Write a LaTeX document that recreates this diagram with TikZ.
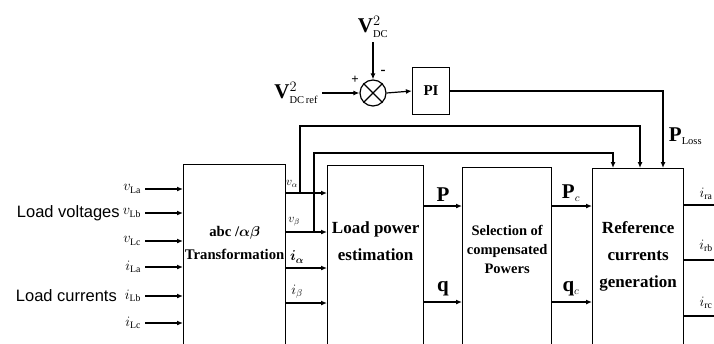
\documentclass[tikz,border=0pt]{standalone}
\usepackage{fontspec}
\setmainfont{Liberation Serif}
\newfontfamily\sansfont{Liberation Sans}
\usetikzlibrary{arrows.meta}

\begin{document}
\begin{tikzpicture}[x=1pt, y=-1pt, >={Latex[length=6pt,width=5pt]}, line width=1.2pt,
	blk/.style={draw, line width=1.3pt, anchor=north west, inner sep=0pt},
	blktxt/.style={font=\bfseries\fontsize{17}{27}\selectfont, align=center},
	sig/.style={font=\fontsize{14}{14}\selectfont},
	big/.style={font=\bfseries\fontsize{21}{21}\selectfont},
	side/.style={font=\sansfont\fontsize{16.5}{18}\selectfont, anchor=west}]
	\useasboundingbox (0,0) rectangle (714,343);
	\clip (0,0) rectangle (714,343);

	% blocks
	\node[blk, minimum width=102, minimum height=220] (tr) at (183,164) {};
	\node[blk, minimum width=96, minimum height=220] (lpe) at (327,165) {};
	\node[blk, minimum width=89, minimum height=220] (sel) at (462,167) {};
	\node[blk, minimum width=91, minimum height=220] (ref) at (592,168) {};
	\node[blktxt, font=\bfseries\boldmath\fontsize{14.7}{23}\selectfont] (trtxt) at ([yshift=-79pt]tr.north) {abc /$\alpha\beta$\\Transformation};
	\node[blktxt] (lpetxt) at ([yshift=-76pt]lpe.north) {Load power\\estimation};
	\node[blktxt, font=\bfseries\fontsize{14.5}{19}\selectfont] (seltxt) at ([yshift=-82pt]sel.north) {Selection of\\compensated\\Powers};
	\node[blktxt] (reftxt) at ([yshift=-88pt]ref.north) {Reference\\currents\\generation};

	% DC loop
	\node[draw, circle, minimum size=26, inner sep=0pt] (sum) at (373,93) {};
	\draw (sum.north west) -- (sum.south east) (sum.north east) -- (sum.south west);
	\node[draw, minimum width=37, minimum height=47, font=\bfseries\fontsize{15}{15}\selectfont] (pi) at (431,91) {PI};
	\coordinate (vdc) at (373,42);
	\coordinate (vref) at (322,93);
	\node[big, anchor=south] (vdclbl) at (vdc) {V$^{2}_{\scriptscriptstyle\mathrm{DC}}$};
	\node[big, anchor=east] (vreflbl) at (vref) {V$^{2}_{\scriptscriptstyle\mathrm{DC\,ref}}$};
	\draw[->] (vdc) -- (sum.north);
	\draw[->] (vref) -- (sum.west);
	\draw[->] (sum.east) -- (pi.west);
	\node[font=\bfseries\fontsize{13}{13}\selectfont] (plus) at (355,80) {+};
	\node[font=\bfseries\fontsize{15}{15}\selectfont] (minus) at (383,72) {-};
	\draw[->] (pi.east) -| ([xshift=71pt]ref.north west);
	\node[big, anchor=west] (ploss) at (665,136) {P$_{\scriptscriptstyle\mathrm{Loss}}$};

	% load measurements
	\node[side] (lv) at (13,213) {Load voltages};
	\node[side] (lc) at (12,296) {Load currents};
	\coordinate (in1) at (145,189);
	\coordinate (in2) at (145,213);
	\coordinate (in3) at (145,241);
	\coordinate (in4) at (145,267);
	\coordinate (in5) at (145,296);
	\coordinate (in6) at (145,323);
	\draw[->] (in1) -- (in1 -| tr.west) node[sig, at start, anchor=east] {$v_{\mathrm{La}}$};
	\draw[->] (in2) -- (in2 -| tr.west) node[sig, at start, anchor=east] {$v_{\mathrm{Lb}}$};
	\draw[->] (in3) -- (in3 -| tr.west) node[sig, at start, anchor=east] {$v_{\mathrm{Lc}}$};
	\draw[->] (in4) -- (in4 -| tr.west) node[sig, at start, anchor=east] {$i_{\mathrm{La}}$};
	\draw[->] (in5) -- (in5 -| tr.west) node[sig, at start, anchor=east] {$i_{\mathrm{Lb}}$};
	\draw[->] (in6) -- (in6 -| tr.west) node[sig, at start, anchor=east] {$i_{\mathrm{Lc}}$};

	% alpha-beta quantities
	\coordinate (oa) at (285,193);
	\coordinate (ob) at (285,232);
	\coordinate (oc) at (285,268);
	\coordinate (od) at (285,303);
	\draw[->] (oa) -- (oa -| lpe.west);
	\draw[->] (ob) -- (ob -| lpe.west);
	\draw[->] (oc) -- (oc -| lpe.west);
	\draw[->] (od) -- (od -| lpe.west);
	\node[sig, font=\fontsize{12}{12}\selectfont] (va) at (292,184) {$v_\alpha$};
	\node[sig, font=\fontsize{12}{12}\selectfont] (vb) at (294,222) {$v_\beta$};
	\node[sig, font=\boldmath\fontsize{14}{14}\selectfont] (ia) at (297,257) {$i_\alpha$};
	\node[sig] (ib) at (297,292) {$i_\beta$};
	\coordinate (ta) at (300,193);
	\coordinate (tb) at (314,232);
	\draw[->] (ta) -- ++(0,-67) -| ([xshift=48pt]ref.north west);
	\draw[->] (tb) -- ++(0,-79) -| ([xshift=21pt]ref.north west);

	% powers
	\coordinate (pp) at (423,206);
	\coordinate (qq) at (423,302);
	\draw[->] (pp) -- (pp -| sel.west);
	\draw[->] (qq) -- (qq -| sel.west);
	\node[big] (plbl) at (443,195) {P};
	\node[big] (qlbl) at (443,289) {q};
	\coordinate (pc) at (551,206);
	\coordinate (qc) at (551,302);
	\draw[->] (pc) -- (pc -| ref.west);
	\draw[->] (qc) -- (qc -| ref.west);
	\node[big] (pclbl) at (571,193) {P$_{\scriptscriptstyle c}$};
	\node[big] (qclbl) at (571,289) {q$_{\scriptscriptstyle c}$};

	% reference currents
	\coordinate (ra) at (683,205);
	\coordinate (rb) at (683,260);
	\coordinate (rc) at (683,316);
	\draw (ra) -- ++(40,0);
	\draw (rb) -- ++(40,0);
	\draw (rc) -- ++(40,0);
	\node[sig] (iral) at (706,194) {$i_{\mathrm{ra}}$};
	\node[sig] (irbl) at (706,246) {$i_{\mathrm{rb}}$};
	\node[sig] (ircl) at (706,303) {$i_{\mathrm{rc}}$};
\end{tikzpicture}
\end{document}
